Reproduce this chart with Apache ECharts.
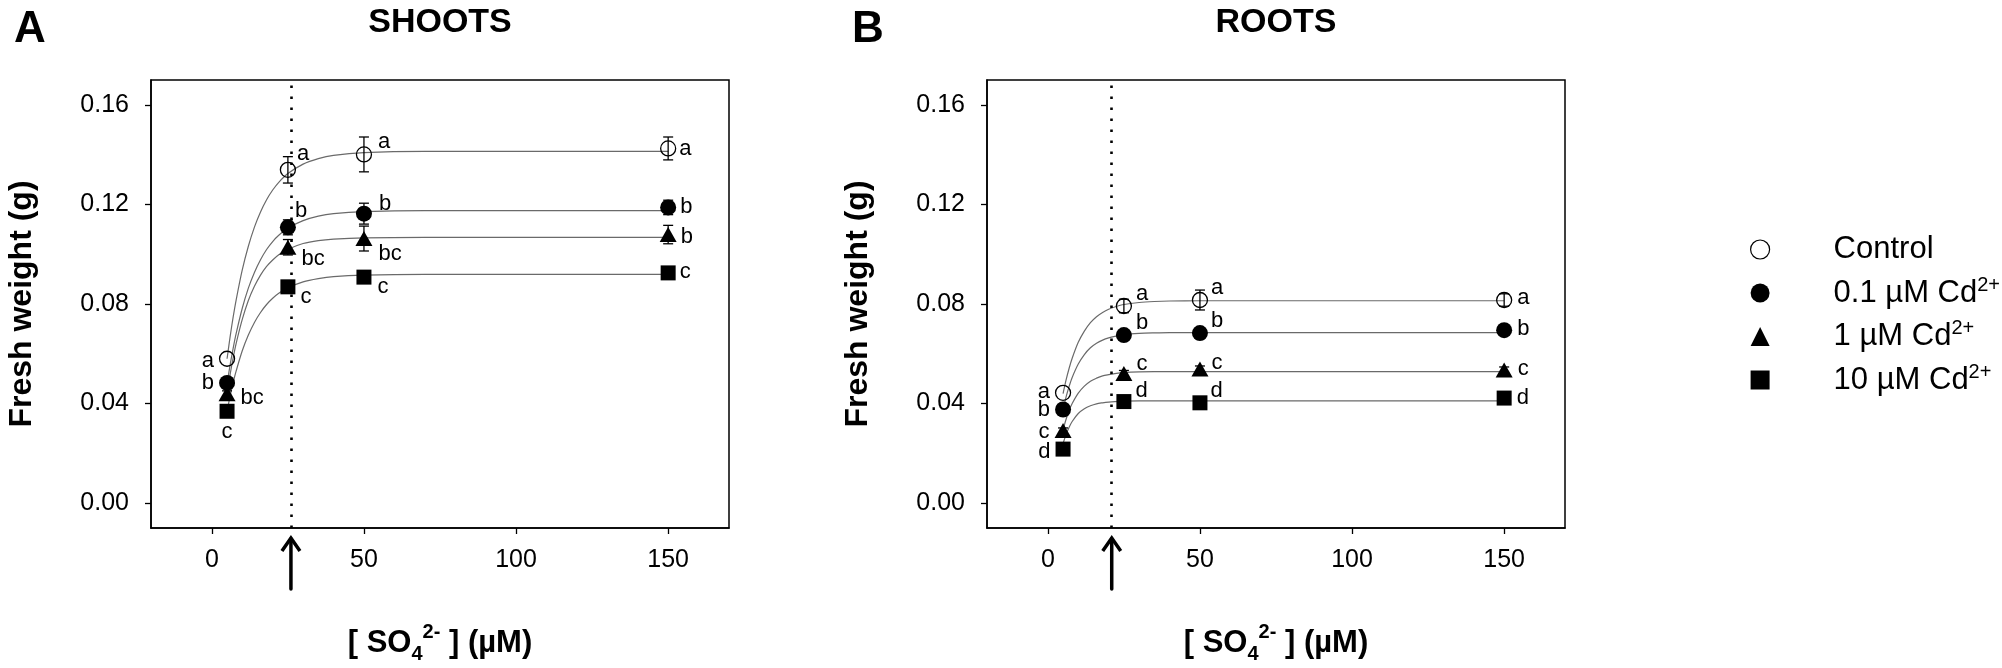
<!DOCTYPE html>
<html lang="en">
<head>
<meta charset="UTF-8" />
<title>Fresh weight vs sulfate supply</title>
<script src="https://cdn.jsdelivr.net/npm/echarts@6.0.0/dist/echarts.min.js"></script>
<style>
  html, body { margin: 0; padding: 0; background: #fff; }
  #chart { width: 2002px; height: 668px; }
</style>
</head>
<body>
<div id="chart"></div>
<script>
const FONT = '"Liberation Sans", Arial, sans-serif';

// sulfate supply (µM) of the measured points
const sulfate = [5, 25, 50, 150];
const groupNames = ['Control', '0.1 µM Cd2+', '1 µM Cd2+', '10 µM Cd2+'];

// SHOOTS: mean fresh weight (g), error, letters
const shootControl = [0.0580, 0.1339, 0.1401, 0.1425];
const shootCd01    = [0.0483, 0.1108, 0.1163, 0.1188];
const shootCd1     = [0.0439, 0.1028, 0.1063, 0.1079];
const shootCd10    = [0.0369, 0.0869, 0.0908, 0.0925];
const shootControlErr = [0, 0.0053, 0.0070, 0.0046];
const shootCd01Err    = [0.0012, 0.0030, 0.0042, 0.0029];
const shootCd1Err     = [0.0012, 0.0031, 0.0050, 0.0037];
const shootCd10Err    = [0.0010, 0.0012, 0.0020, 0.0010];
const shootControlSig = ['a', 'a', 'a', 'a'];
const shootCd01Sig    = ['b', 'b', 'b', 'b'];
const shootCd1Sig     = ['bc', 'bc', 'bc', 'b'];
const shootCd10Sig    = ['c', 'c', 'c', 'c'];

// ROOTS
const rootControl = [0.0443, 0.0792, 0.0816, 0.0816];
const rootCd01    = [0.0376, 0.0675, 0.0683, 0.0695];
const rootCd1     = [0.0292, 0.0521, 0.0539, 0.0535];
const rootCd10    = [0.0217, 0.0408, 0.0403, 0.0422];
const rootControlErr = [0, 0.0027, 0.0040, 0.0025];
const rootCd01Err    = [0.0010, 0.0015, 0.0022, 0.0012];
const rootCd1Err     = [0.0010, 0.0012, 0.0012, 0.0012];
const rootCd10Err    = [0.0008, 0.0010, 0.0010, 0.0010];
const rootControlSig = ['a', 'a', 'a', 'a'];
const rootCd01Sig    = ['b', 'b', 'b', 'b'];
const rootCd1Sig     = ['c', 'c', 'c', 'c'];
const rootCd10Sig    = ['d', 'd', 'd', 'd'];

// fitted curves
const fitX = [5, 6, 7, 8, 10, 12, 14, 16, 18, 20, 22, 25, 30, 35, 40, 50, 70, 100, 150];
const shootControlFit = [0.0580, 0.0668, 0.0747, 0.0817, 0.0937, 0.1032, 0.1109, 0.1170, 0.1219, 0.1258, 0.1289, 0.1324, 0.1362, 0.1384, 0.1397, 0.1408, 0.1413, 0.1413, 0.1413];
const shootCd01Fit    = [0.0480, 0.0555, 0.0622, 0.0682, 0.0783, 0.0864, 0.0927, 0.0978, 0.1019, 0.1051, 0.1076, 0.1105, 0.1135, 0.1153, 0.1163, 0.1171, 0.1175, 0.1175, 0.1175];
const shootCd1Fit     = [0.0440, 0.0516, 0.0583, 0.0642, 0.0738, 0.0814, 0.0871, 0.0916, 0.0951, 0.0977, 0.0998, 0.1020, 0.1043, 0.1055, 0.1061, 0.1066, 0.1068, 0.1068, 0.1068];
const shootCd10Fit    = [0.0370, 0.0430, 0.0484, 0.0531, 0.0612, 0.0675, 0.0726, 0.0766, 0.0798, 0.0823, 0.0843, 0.0865, 0.0889, 0.0902, 0.0910, 0.0916, 0.0919, 0.0919, 0.0919];
const rootControlFit  = [0.0440, 0.0495, 0.0542, 0.0582, 0.0646, 0.0691, 0.0725, 0.0749, 0.0766, 0.0779, 0.0788, 0.0798, 0.0806, 0.0810, 0.0812, 0.0813, 0.0813, 0.0813, 0.0813];
const rootCd01Fit     = [0.0376, 0.0427, 0.0469, 0.0505, 0.0559, 0.0597, 0.0624, 0.0642, 0.0655, 0.0664, 0.0670, 0.0677, 0.0682, 0.0684, 0.0685, 0.0685, 0.0685, 0.0685, 0.0685];
const rootCd1Fit      = [0.0295, 0.0337, 0.0372, 0.0400, 0.0442, 0.0470, 0.0490, 0.0502, 0.0511, 0.0516, 0.0520, 0.0524, 0.0527, 0.0528, 0.0528, 0.0528, 0.0528, 0.0528, 0.0528];
const rootCd10Fit     = [0.0240, 0.0276, 0.0305, 0.0328, 0.0360, 0.0379, 0.0391, 0.0399, 0.0403, 0.0406, 0.0408, 0.0410, 0.0411, 0.0411, 0.0411, 0.0411, 0.0411, 0.0411, 0.0411];

// dotted reference line (µM) in each panel
const shootMarkX = 26;
const rootMarkX = 21;

const xTicks = [0, 50, 100, 150];
const yTicks = [0, 0.04, 0.08, 0.12, 0.16];

// label placement for each group / point: [position, dx, dy]
const shootLabelPos = [
  [['left', 0, 2], ['right', -4, -16], ['right', 1, -12], ['right', -2, 0]],
  [['left', 0, 0], ['right', -6, -16], ['right', 2, -10], ['right', -1, 0]],
  [['right', 0, 4], ['right', 0, 12], ['right', 1, 15], ['right', -1, 2]],
  [['bottom', 0, -3], ['right', 0, 10], ['right', 1, 10], ['right', -1, -1]]
];
const rootLabelPos = [
  [['left', 0, -1], ['right', -1, -12], ['right', -2, -12], ['right', 0, -2]],
  [['left', 0, 0], ['right', -1, -12], ['right', -2, -12], ['right', 0, -1]],
  [['left', 0, 2], ['right', -1, -10], ['right', -2, -6], ['right', 0, -1]],
  [['left', 0, 3], ['right', -1, -11], ['right', -2, -12], ['right', 0, 0]]
];

const symbols = ['circle', 'circle', 'triangle', 'rect'];
const symbolSizes = [15, 16, [17, 15], 15];

const chart = echarts.init(document.getElementById('chart'));

function renderErr(params, api) {
  const x = api.value(0), m = api.value(1), e = api.value(2);
  if (!e) return null;
  const top = api.coord([x, m + e]);
  const bot = api.coord([x, m - e]);
  const w = 5;
  const st = { stroke: '#000', lineWidth: 1.3 };
  return {
    type: 'group',
    children: [
      { type: 'line', shape: { x1: top[0], y1: top[1], x2: bot[0], y2: bot[1] }, style: st },
      { type: 'line', shape: { x1: top[0] - w, y1: top[1], x2: top[0] + w, y2: top[1] }, style: st },
      { type: 'line', shape: { x1: bot[0] - w, y1: bot[1], x2: bot[0] + w, y2: bot[1] }, style: st }
    ]
  };
}

function panelSeries(g, means, errs, sigs, fits, labelPos, markX) {
  const out = [];
  fits.forEach((f, k) => {
    out.push({
      type: 'line', name: 'fit' + g + k, xAxisIndex: g, yAxisIndex: g, z: 2,
      data: fitX.map((x, i) => [x, f[i]]),
      smooth: 0.3, symbol: 'none', silent: true,
      lineStyle: { color: '#6a6a6a', width: 1.2 }
    });
  });
  const errData = [];
  means.forEach((m, k) => sulfate.forEach((x, i) => errData.push([x, m[i], errs[k][i]])));
  out.push({
    type: 'custom', name: 'err' + g, xAxisIndex: g, yAxisIndex: g, z: 3,
    renderItem: renderErr, data: errData, encode: { x: 0, y: 1 }, silent: true
  });
  means.forEach((m, k) => {
    const s = {
      type: 'scatter', name: groupNames[k], xAxisIndex: g, yAxisIndex: g, z: k === 0 ? 3 : 4,
      symbol: symbols[k], symbolSize: symbolSizes[k],
      itemStyle: k === 0
        ? { color: 'rgba(0,0,0,0)', borderColor: '#000', borderWidth: 1.3, opacity: 1 }
        : { color: '#000', opacity: 1 },
      emphasis: { disabled: true },
      data: sulfate.map((x, i) => ({
        value: [x, m[i]],
        label: {
          show: true, formatter: sigs[k][i],
          position: labelPos[k][i][0], offset: [labelPos[k][i][1], labelPos[k][i][2]],
          fontSize: 22, fontFamily: FONT, color: '#000', distance: 5
        }
      }))
    };
    if (k === 0) {
      s.markLine = {
        silent: true, symbol: 'none', label: { show: false },
        lineStyle: { color: '#000', width: 2.6, type: [2.6, 8.4], opacity: 1 },
        data: [{ xAxis: markX }]
      };
    }
    out.push(s);
  });
  return out;
}

function xAxisFor(g) {
  return {
    gridIndex: g, type: 'value', min: -20, max: 170,
    axisLine: { onZero: false, lineStyle: { color: '#000', width: 1.5 } },
    axisTick: { show: true, length: 6, customValues: xTicks, lineStyle: { color: '#000', width: 1.3 } },
    axisLabel: { customValues: xTicks, margin: 20, fontSize: 25, color: '#000', fontFamily: FONT },
    splitLine: { show: false },
    name: '{t|[ SO}{sub|4}{sup|2-}{t| ] (µM)}',
    nameLocation: 'middle', nameGap: 94,
    nameTextStyle: {
      rich: {
        t: { fontSize: 31, fontWeight: 'bold', lineHeight: 42, fontFamily: FONT, color: '#000' },
        sub: { fontSize: 20, fontWeight: 'bold', lineHeight: 20, verticalAlign: 'bottom', fontFamily: FONT, color: '#000' },
        sup: { fontSize: 20, fontWeight: 'bold', lineHeight: 20, verticalAlign: 'top', fontFamily: FONT, color: '#000' }
      }
    }
  };
}

function yAxisFor(g) {
  return {
    gridIndex: g, type: 'value', min: -0.01, max: 0.17,
    axisLine: { onZero: false, lineStyle: { color: '#000', width: 1.5 } },
    axisTick: { show: true, length: 6, customValues: yTicks, lineStyle: { color: '#000', width: 1.3 } },
    axisLabel: {
      customValues: yTicks, margin: 22, fontSize: 25, color: '#000', fontFamily: FONT,
      formatter: v => v.toFixed(2)
    },
    splitLine: { show: false },
    name: 'Fresh weight (g)', nameLocation: 'middle', nameGap: 113,
    nameTextStyle: { fontSize: 32, fontWeight: 'bold', fontFamily: FONT, color: '#000' }
  };
}

const gridBase = {
  top: 80, width: 578, height: 448, show: true,
  borderColor: '#000', borderWidth: 1.5, backgroundColor: 'transparent',
  outerBoundsMode: 'none'
};

const option = {
  backgroundColor: '#fff',
  animation: false,
  grid: [
    Object.assign({ left: 151 }, gridBase),
    Object.assign({ left: 987 }, gridBase)
  ],
  xAxis: [xAxisFor(0), xAxisFor(1)],
  yAxis: [yAxisFor(0), yAxisFor(1)],
  legend: {
    orient: 'vertical', left: 1745, top: 229,
    itemWidth: 19, itemHeight: 19, itemGap: 10, selectedMode: false,
    data: [
      { name: groupNames[0], icon: 'circle', itemStyle: { color: '#fff', borderColor: '#000', borderWidth: 1.2 } },
      { name: groupNames[1], icon: 'circle', itemStyle: { color: '#000' } },
      { name: groupNames[2], icon: 'triangle', itemStyle: { color: '#000' } },
      { name: groupNames[3], icon: 'rect', itemStyle: { color: '#000' } }
    ],
    formatter: n => n.endsWith('2+') ? '{t|' + n.slice(0, -2) + '}{s|2+}' : '{t|' + n + '}',
    textStyle: {
      padding: [0, 0, 0, 59],
      rich: {
        t: { fontSize: 31, lineHeight: 36, fontFamily: FONT, color: '#000' },
        s: { fontSize: 20, lineHeight: 20, verticalAlign: 'top', fontFamily: FONT, color: '#000' }
      }
    }
  },
  series: [].concat(
    panelSeries(0,
      [shootControl, shootCd01, shootCd1, shootCd10],
      [shootControlErr, shootCd01Err, shootCd1Err, shootCd10Err],
      [shootControlSig, shootCd01Sig, shootCd1Sig, shootCd10Sig],
      [shootControlFit, shootCd01Fit, shootCd1Fit, shootCd10Fit],
      shootLabelPos, shootMarkX),
    panelSeries(1,
      [rootControl, rootCd01, rootCd1, rootCd10],
      [rootControlErr, rootCd01Err, rootCd1Err, rootCd10Err],
      [rootControlSig, rootCd01Sig, rootCd1Sig, rootCd10Sig],
      [rootControlFit, rootCd01Fit, rootCd1Fit, rootCd10Fit],
      rootLabelPos, rootMarkX)
  )
};

chart.setOption(option);

// panel letters, titles and the arrows under the dotted lines
function arrow(px) {
  return [
    { type: 'line', shape: { x1: px, y1: 539, x2: px, y2: 589 }, style: { stroke: '#000', lineWidth: 3.5, lineCap: 'round' } },
    { type: 'polyline', shape: { points: [[px - 9, 551], [px, 538], [px + 9, 551]] }, style: { stroke: '#000', lineWidth: 3.5, fill: null, lineJoin: 'miter' } }
  ];
}
const txt = (text, x, y, size, align) => ({
  type: 'text', x: x, y: y,
  style: { text: text, font: 'bold ' + size + 'px ' + FONT, fill: '#000', textAlign: align, textVerticalAlign: 'middle' }
});
const ax = chart.convertToPixel({ gridIndex: 0 }, [shootMarkX, 0])[0];
const bx = chart.convertToPixel({ gridIndex: 1 }, [rootMarkX, 0])[0];
chart.setOption({
  graphic: [
    txt('A', 14, 30, 44, 'left'),
    txt('SHOOTS', 440, 23, 34, 'center'),
    txt('B', 852, 30, 44, 'left'),
    txt('ROOTS', 1276, 23, 34, 'center')
  ].concat(arrow(ax), arrow(bx))
});
</script>
</body>
</html>
